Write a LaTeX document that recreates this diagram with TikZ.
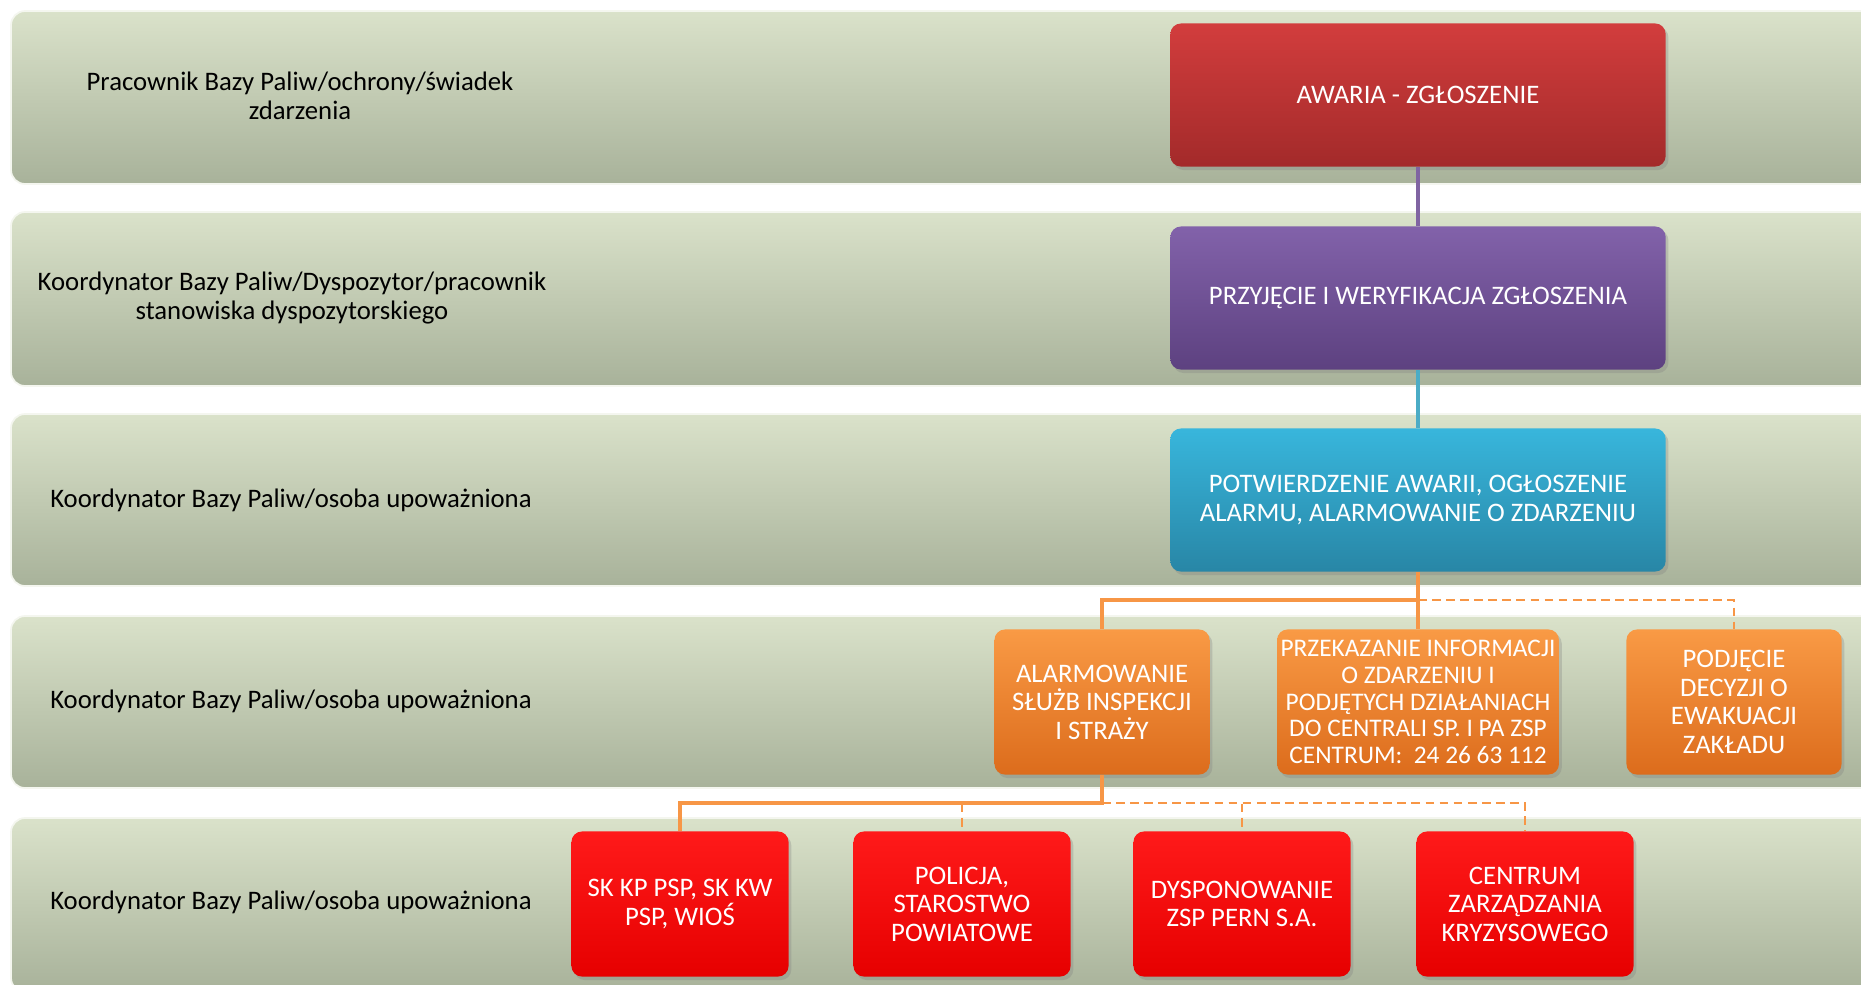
\documentclass[tikz,border=0pt]{standalone}
\usepackage{fontspec}
\setmainfont{Carlito}
\usetikzlibrary{shadows}
\definecolor{lanetop}{HTML}{DAE2CA}
\definecolor{lanebot}{HTML}{A8B29A}
\definecolor{awtop}{HTML}{D23D3D}
\definecolor{awbot}{HTML}{A32A2A}
\definecolor{prtop}{HTML}{8262AA}
\definecolor{prbot}{HTML}{5D4180}
\definecolor{potop}{HTML}{38B6DC}
\definecolor{pobot}{HTML}{2886A6}
\definecolor{ortop}{HTML}{F99A45}
\definecolor{orbot}{HTML}{DC6C1C}
\definecolor{rdtop}{HTML}{FF1A1A}
\definecolor{rdbot}{HTML}{E60000}
\definecolor{lnpurple}{HTML}{8064A2}
\definecolor{lnblue}{HTML}{4BACC6}
\definecolor{lnorange}{HTML}{F79646}
\tikzset{%
    lane/.style={rounded corners=4pt, top color=lanetop, bottom color=lanebot, draw=white!70!lanetop, line width=0.5pt},
    lbl/.style={align=center, font=\fontsize{7.6}{8.1}\selectfont},
    box/.style={rounded corners=3pt, text=white, align=center, inner sep=1pt, font=\fontsize{7.6}{8.1}\selectfont,
        drop shadow={opacity=0.3, shadow xshift=0.8pt, shadow yshift=-1pt}},
    bigbox/.style={box, minimum width=4.95cm, minimum height=1.43cm},
    orbox/.style={box, minimum width=2.15cm, minimum height=1.45cm, top color=ortop, bottom color=orbot},
    redbox/.style={box, minimum width=2.17cm, minimum height=1.45cm, top color=rdtop, bottom color=rdbot},
    link/.style={line width=1.3pt},
    dlink/.style={line width=0.6pt, dash pattern=on 2.5pt off 1.5pt}
}

\begin{document}
\begin{tikzpicture}[x=0.01cm, y=-0.01cm]
    \useasboundingbox (0,0) rectangle (1861,984);
    \clip (0,0) rectangle (1861,984);

    % draw lanes
    \foreach \t/\b in {11/184, 212/386, 414/586, 616/788, 818/992}
        \draw[lane] (11,\t) rectangle (1920,\b);

    % lane labels
    \node[lbl] (l1) at (300,96) {Pracownik Bazy Paliw/ochrony/świadek\\zdarzenia};
    \node[lbl] (l2) at (292,298) {Koordynator Bazy Paliw/Dyspozytor/pracownik\\stanowiska dyspozytorskiego};
    \node[lbl] (l3) at (291,500) {Koordynator Bazy Paliw/osoba upoważniona};
    \node[lbl] (l4) at (291,701) {Koordynator Bazy Paliw/osoba upoważniona};
    \node[lbl] (l5) at (291,902) {Koordynator Bazy Paliw/osoba upoważniona};

    % main steps
    \node[bigbox, top color=awtop, bottom color=awbot] (awaria) at (1418,95) {AWARIA - ZGŁOSZENIE};
    \node[bigbox, top color=prtop, bottom color=prbot] (przyj) at (1418,298) {PRZYJĘCIE I WERYFIKACJA ZGŁOSZENIA};
    \node[bigbox, top color=potop, bottom color=pobot] (potw) at (1418,500) {POTWIERDZENIE AWARII, OGŁOSZENIE\\ALARMU, ALARMOWANIE O ZDARZENIU};

    % orange row
    \node[orbox] (alarm) at (1102,702) {ALARMOWANIE\\SŁUŻB INSPEKCJI\\I STRAŻY};
    \node[orbox, minimum width=2.81cm, font=\fontsize{7.2}{7.6}\selectfont] (przek) at (1418,702)
        {PRZEKAZANIE INFORMACJI\\O ZDARZENIU I\\PODJĘTYCH DZIAŁANIACH\\DO CENTRALI SP. I PA ZSP\\CENTRUM:\ \ 24 26 63 112};
    \node[orbox] (podj) at (1734,702) {PODJĘCIE\\DECYZJI O\\EWAKUACJI\\ZAKŁADU};

    % red row
    \node[redbox] (skkp) at (680,904) {SK KP PSP, SK KW\\PSP, WIOŚ};
    \node[redbox] (policja) at (962,904) {POLICJA,\\STAROSTWO\\POWIATOWE};
    \node[redbox] (dysp) at (1242,904) {DYSPONOWANIE\\ZSP PERN S.A.};
    \node[redbox] (czk) at (1525,904) {CENTRUM\\ZARZĄDZANIA\\KRYZYSOWEGO};

    % connectors
    \draw[link, lnpurple] (awaria) -- (przyj);
    \draw[link, lnblue] (przyj) -- (potw);

    \coordinate (j1) at (1418,600);
    \draw[link, lnorange] (potw.south) -- (przek.north);
    \draw[link, lnorange] (j1) -| (alarm);
    \draw[dlink, lnorange] (j1) -| (podj);

    \coordinate (j2) at (1102,803);
    \draw[link, lnorange] (alarm) -- (j2) -| (skkp);
    \draw[dlink, lnorange] (j2) -| (policja);
    \draw[dlink, lnorange] (j2) -| (dysp);
    \draw[dlink, lnorange] (j2) -| (czk);
\end{tikzpicture}
\end{document}
